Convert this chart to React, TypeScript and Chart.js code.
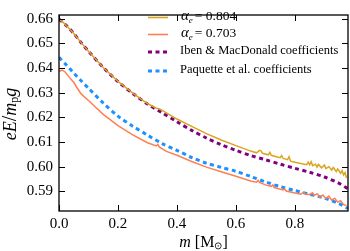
import React, { useEffect, useRef } from "react";
import { Chart, registerables } from "chart.js";
Chart.register(...registerables);

// alpha_e = 0.804 model
const goldM = [0, 0.01, 0.025, 0.05, 0.075, 0.1, 0.15, 0.2, 0.25, 0.3, 0.33, 0.34, 0.35, 0.4, 0.45, 0.5, 0.55, 0.6, 0.65, 0.67, 0.68, 0.685, 0.69, 0.71, 0.715, 0.72, 0.74, 0.75, 0.755, 0.76, 0.775, 0.78, 0.785, 0.8, 0.84, 0.845, 0.85, 0.855, 0.86, 0.87, 0.875, 0.88, 0.89, 0.9, 0.905, 0.915, 0.925, 0.93, 0.94, 0.945, 0.955, 0.96, 0.965, 0.97, 0.975];
const goldE = [0.6595, 0.659, 0.6572, 0.654, 0.6503, 0.6468, 0.6402, 0.6346, 0.6298, 0.6256, 0.6237, 0.6235, 0.6228, 0.6193, 0.6163, 0.6134, 0.6108, 0.6085, 0.6063, 0.6056, 0.6066, 0.6064, 0.6054, 0.6048, 0.6058, 0.6046, 0.6039, 0.6036, 0.6045, 0.6033, 0.6028, 0.604, 0.6022, 0.6018, 0.6008, 0.6018, 0.6007, 0.602, 0.6004, 0.601, 0.5998, 0.6009, 0.5995, 0.6006, 0.5992, 0.6, 0.5986, 0.5997, 0.598, 0.5991, 0.5973, 0.5984, 0.5966, 0.5976, 0.5954];

// alpha_e = 0.703 model
const orangeM = [0, 0.01, 0.02, 0.03, 0.04, 0.05, 0.06, 0.075, 0.1, 0.125, 0.15, 0.2, 0.25, 0.3, 0.33, 0.335, 0.34, 0.364, 0.4, 0.45, 0.5, 0.55, 0.6, 0.65, 0.67, 0.675, 0.68, 0.7, 0.72, 0.725, 0.73, 0.76, 0.765, 0.77, 0.8, 0.82, 0.83, 0.835, 0.85, 0.86, 0.865, 0.875, 0.885, 0.895, 0.905, 0.915, 0.925, 0.935, 0.945, 0.955, 0.965, 0.975];
const orangeE = [0.6386, 0.6392, 0.6385, 0.637, 0.6355, 0.6342, 0.6322, 0.6295, 0.6268, 0.624, 0.6212, 0.6166, 0.6129, 0.6097, 0.6084, 0.609, 0.608, 0.6062, 0.6046, 0.6021, 0.5998, 0.5979, 0.5961, 0.5942, 0.5937, 0.5945, 0.5936, 0.5926, 0.592, 0.5926, 0.5915, 0.5905, 0.591, 0.5901, 0.5893, 0.5888, 0.5897, 0.5888, 0.5887, 0.5894, 0.5882, 0.589, 0.5876, 0.5885, 0.587, 0.588, 0.5864, 0.5872, 0.5856, 0.5862, 0.5846, 0.5842];

// coefficient fits
const fitM = [0, 0.025, 0.05, 0.075, 0.1, 0.15, 0.2, 0.25, 0.3, 0.35, 0.4, 0.45, 0.5, 0.55, 0.6, 0.65, 0.7, 0.75, 0.8, 0.85, 0.9, 0.95, 0.98];
const ibenE = [0.6598, 0.6572, 0.654, 0.6503, 0.6468, 0.6402, 0.6345, 0.6297, 0.6254, 0.6218, 0.6182, 0.6147, 0.6116, 0.6089, 0.6066, 0.6045, 0.6028, 0.601, 0.5993, 0.5977, 0.5958, 0.5932, 0.591];
const paquetteE = [0.6443, 0.6412, 0.638, 0.6348, 0.6318, 0.6258, 0.6205, 0.6164, 0.6128, 0.6093, 0.6066, 0.6037, 0.6014, 0.5997, 0.5981, 0.596, 0.5938, 0.5919, 0.5903, 0.5888, 0.5872, 0.585, 0.583];

const xTicks = [0, 0.2, 0.4, 0.6, 0.8];
const yTicks = [0.59, 0.6, 0.61, 0.62, 0.63, 0.64, 0.65, 0.66];

const GOLD = "#DAA520";
const CORAL = "#FF7F50";
const PURPLE = "#800080";
const BLUE = "#1E90FF";
const SERIF = '"Liberation Serif", "Times New Roman", serif';

const legendItems = [
  { kind: "alpha", value: "0.804", color: GOLD, dash: [] as number[] },
  { kind: "alpha", value: "0.703", color: CORAL, dash: [] as number[] },
  { kind: "text", value: "Iben & MacDonald coefficients", color: PURPLE, dash: [4, 3.5] },
  { kind: "text", value: "Paquette et al. coefficients", color: BLUE, dash: [4, 3.5] },
];

const pts = (m: number[], e: number[]) => m.map((v, i) => ({ x: v, y: e[i] }));

const framePlugin = {
  id: "frame",
  afterDraw(chart: any) {
    const { ctx, chartArea, scales } = chart;
    const { left, right, top, bottom } = chartArea;
    const xs = scales.x;
    const ys = scales.y;
    ctx.save();
    ctx.strokeStyle = "#000";
    ctx.lineWidth = 1.3;
    ctx.strokeRect(left, top, right - left, bottom - top);
    const tl = 6;
    ctx.lineWidth = 1;
    ctx.beginPath();
    xs.ticks.forEach((t: any) => {
      const px = Math.round(xs.getPixelForValue(t.value)) + 0.5;
      ctx.moveTo(px, bottom);
      ctx.lineTo(px, bottom - tl);
      ctx.moveTo(px, top);
      ctx.lineTo(px, top + tl);
    });
    ys.ticks.forEach((t: any) => {
      const py = Math.round(ys.getPixelForValue(t.value)) + 0.5;
      ctx.moveTo(left, py);
      ctx.lineTo(left + tl, py);
      ctx.moveTo(right, py);
      ctx.lineTo(right - tl, py);
    });
    ctx.stroke();

    // Legend
    const ly = [17.5, 34.5, 52, 71];
    legendItems.forEach((it, i) => {
      const y = ly[i];
      ctx.save();
      ctx.strokeStyle = it.color;
      ctx.lineWidth = it.dash.length ? 3 : 1.6;
      ctx.setLineDash(it.dash);
      ctx.beginPath();
      ctx.moveTo(148, y);
      ctx.lineTo(168, y);
      ctx.stroke();
      ctx.restore();
      ctx.fillStyle = "#000";
      ctx.textBaseline = "middle";
      ctx.textAlign = "left";
      let x = 181;
      if (it.kind === "alpha") {
        ctx.font = `italic 15px ${SERIF}`;
        ctx.fillText("α", x, y - 1);
        x += ctx.measureText("α").width;
        ctx.font = `italic 9px ${SERIF}`;
        ctx.fillText("e", x, y + 3);
        x += ctx.measureText("e").width + 2;
        ctx.font = `13.5px ${SERIF}`;
        ctx.fillText("= " + it.value, x, y - 1);
      } else {
        ctx.font = `12.5px ${SERIF}`;
        ctx.fillText(it.value, 180, y - 1);
      }
    });

    // x title
    {
      const parts = [
        { t: "m", f: `italic 16px ${SERIF}`, dy: 0 },
        { t: " [M", f: `16px ${SERIF}`, dy: 0 },
        { t: "⊙", f: `10px ${SERIF}`, dy: 3 },
        { t: "]", f: `16px ${SERIF}`, dy: 0 },
      ];
      let w = 0;
      parts.forEach((p) => { ctx.font = p.f; w += ctx.measureText(p.t).width; });
      let x = (left + right) / 2 - w / 2;
      const y = 243;
      ctx.textBaseline = "middle";
      ctx.textAlign = "left";
      parts.forEach((p) => {
        ctx.font = p.f;
        ctx.fillText(p.t, x, y + p.dy);
        x += ctx.measureText(p.t).width;
      });
    }
    // y title
    {
      const parts = [
        { t: "eE", f: `italic 18px ${SERIF}`, dy: 0 },
        { t: "/", f: `20px ${SERIF}`, dy: 0 },
        { t: "m", f: `italic 18px ${SERIF}`, dy: 0 },
        { t: "p", f: `12px ${SERIF}`, dy: 4 },
        { t: "g", f: `italic 18px ${SERIF}`, dy: 0 },
      ];
      let w = 0;
      parts.forEach((p) => { ctx.font = p.f; w += ctx.measureText(p.t).width; });
      ctx.save();
      ctx.translate(11, 114);
      ctx.rotate(-Math.PI / 2);
      let x = -w / 2;
      ctx.textBaseline = "middle";
      ctx.textAlign = "left";
      parts.forEach((p) => {
        ctx.font = p.f;
        ctx.fillText(p.t, x, p.dy);
        x += ctx.measureText(p.t).width;
      });
      ctx.restore();
    }
    ctx.restore();
  },
};

export default function App() {
  const ref = useRef<HTMLCanvasElement>(null);
  useEffect(() => {
    if (!ref.current) return;
    const chart = new Chart(ref.current, {
      type: "line",
      data: {
        datasets: [
          { label: "αe = 0.804", data: pts(goldM, goldE), borderColor: GOLD, borderWidth: 1.5, pointRadius: 0, tension: 0 },
          { label: "αe = 0.703", data: pts(orangeM, orangeE), borderColor: CORAL, borderWidth: 1.5, pointRadius: 0, tension: 0 },
          { label: "Iben & MacDonald coefficients", data: pts(fitM, ibenE), borderColor: PURPLE, borderWidth: 3, borderDash: [4, 3.5], pointRadius: 0, tension: 0.3 },
          { label: "Paquette et al. coefficients", data: pts(fitM, paquetteE), borderColor: BLUE, borderWidth: 3, borderDash: [4, 3.5], pointRadius: 0, tension: 0.3 },
        ],
      },
      options: {
        animation: false,
        responsive: true,
        maintainAspectRatio: false,
        layout: { padding: { top: 3, right: 2, left: 0, bottom: 0 } },
        plugins: { legend: { display: false }, tooltip: { enabled: false } },
        scales: {
          x: {
            type: "linear",
            min: 0,
            max: 0.98,
            grid: { display: false, drawTicks: false },
            border: { display: false },
            afterBuildTicks: (s: any) => { s.ticks = xTicks.map((v) => ({ value: v })); },
            afterFit: (s: any) => { s.height = 40; },
            ticks: {
              padding: 4,
              color: "#000",
              font: { family: SERIF, size: 15 },
              maxRotation: 0,
              callback: (v: any) => Number(v).toFixed(1),
            },
          },
          y: {
            type: "linear",
            min: 0.582,
            max: 0.6615,
            grid: { display: false, drawTicks: false },
            border: { display: false },
            afterBuildTicks: (s: any) => { s.ticks = yTicks.map((v) => ({ value: v })); },
            afterFit: (s: any) => { s.width = 59; },
            ticks: {
              padding: 6,
              color: "#000",
              font: { family: SERIF, size: 15 },
              callback: (v: any) => Number(v).toFixed(2),
            },
          },
        },
      },
      plugins: [framePlugin],
    });
    return () => chart.destroy();
  }, []);
  return (
    <div style={{ position: "fixed", left: 0, top: 0, width: 350, height: 251, background: "#fff" }}>
      <canvas ref={ref} />
    </div>
  );
}
